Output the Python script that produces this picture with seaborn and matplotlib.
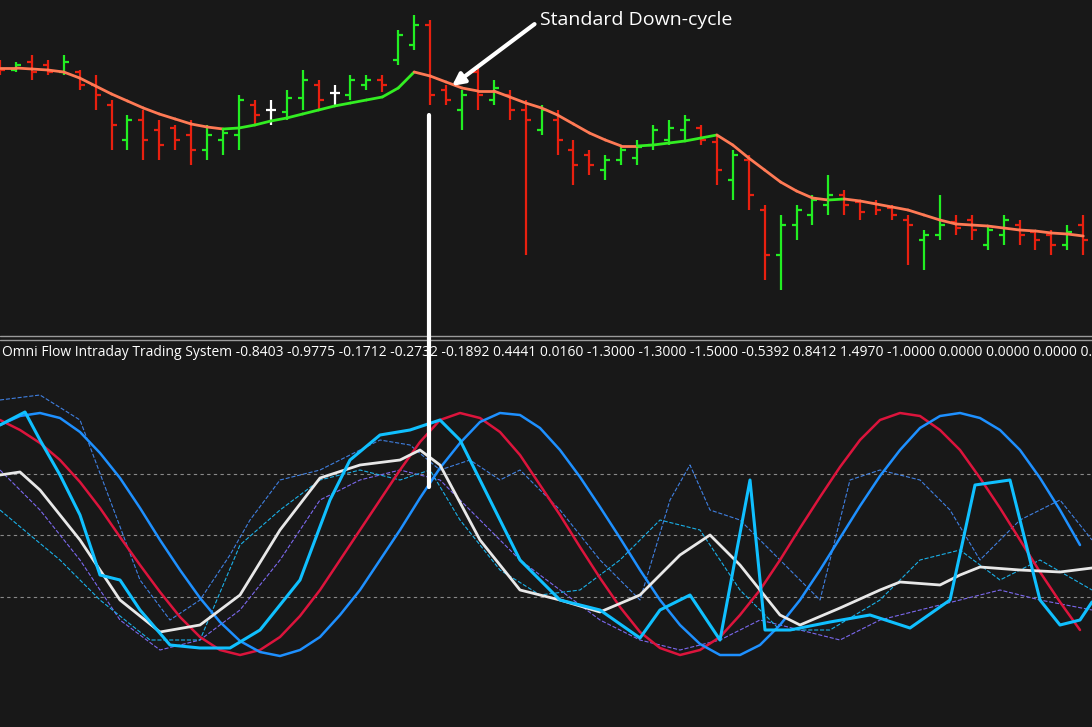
import matplotlib
matplotlib.use("Agg")
import matplotlib.pyplot as plt
import seaborn as sns
import pandas as pd
from matplotlib.lines import Line2D

sns.set_theme(style="dark")
plt.rcParams['font.family'] = ['Open Sans', 'DejaVu Sans']

BG = "#181818"
# ---- top panel data (pixel-like price units, larger = lower) ----
bar_high = [60,62,55,60,55,70,75,100,115,110,120,125,120,125,130,95,100,100,90,70,80,85,75,75,75,30,15,20,85,90,65,80,90,100,105,110,140,150,155,145,140,125,120,115,125,135,150,155,205,215,205,195,175,190,200,200,205,215,230,195,215,215,225,215,220,230,230,225,215]
bar_low = [75,72,80,75,75,90,110,150,150,160,160,150,165,160,155,150,125,125,120,110,110,105,100,90,92,65,50,105,105,130,110,105,120,255,135,155,185,175,180,165,165,150,145,140,145,185,200,210,280,290,240,225,215,215,220,215,220,265,270,240,235,240,250,245,245,250,255,250,255]
bar_open = [65,70,62,65,72,72,85,105,140,120,130,128,135,150,140,135,105,110,112,98,85,93,95,85,80,60,45,25,90,110,72,100,95,110,130,120,150,155,170,160,158,145,140,130,128,142,180,160,210,255,225,215,205,195,202,203,208,220,240,235,222,220,245,235,225,232,235,245,225]
bar_close = [70,65,72,72,62,85,95,125,120,140,145,140,150,135,133,100,115,110,98,80,100,93,80,80,85,35,25,95,100,95,95,88,110,120,110,140,165,165,160,150,147,130,128,120,140,170,155,195,255,225,210,200,195,205,212,210,215,225,235,225,228,230,230,220,235,240,245,232,240]
ma = [68,68,69,70,72,78,86,94,101,108,114,119,124,127,129,128,125,121,118,114,110,106,103,100,97,88,72,76,82,88,91,91,97,103,108,115,124,133,140,146,146,145,143,141,138,135,145,158,170,182,191,198,200,199,201,204,207,210,215,220,224,225,226,228,230,231,233,234,236]

# ---- bottom panel data ----
sine_x = [0,20,40,60,80,100,120,140,160,180,200,220,240,260,280,300,320,340,360,380,400,420,440,460,480,500,520,540,560,580,600,620,640,660,680,700,720,740,760,780,800,820,840,860,880,900,920,940,960,980,1000,1020,1040,1060,1080]
red_y = [420,430,443,460,482,508,537,565,592,617,637,650,655,650,637,616,590,560,530,500,470,442,420,413,418,432,455,485,515,547,578,607,632,648,655,650,637,615,590,560,528,497,467,440,420,413,416,430,450,478,508,540,572,602,630]
blue_y = [425,416,413,418,432,453,478,508,540,570,598,622,641,652,656,650,637,615,590,560,530,498,468,443,422,413,415,428,450,477,507,538,570,600,625,644,655,655,645,625,600,570,538,506,476,450,428,416,413,418,430,450,478,510,545]
white_x = [0,20,40,80,120,160,200,240,280,320,360,400,420,440,480,520,560,600,640,680,710,740,780,800,840,880,900,940,960,980,1020,1060,1092]
white_y = [475,472,490,540,600,632,625,595,530,478,465,460,450,465,540,590,600,612,595,555,535,565,615,625,608,590,582,585,575,567,570,572,568]
cyan_x = [0,25,40,60,80,100,120,140,170,200,230,260,300,330,350,380,410,440,460,490,520,560,600,640,660,690,720,750,765,790,830,870,910,950,975,1010,1040,1060,1080,1092]
cyan_y = [425,412,440,475,515,575,580,610,645,648,648,630,580,500,460,435,430,420,440,500,560,600,610,638,610,595,640,480,630,630,622,615,628,600,485,480,600,625,620,602]
d1_x = [0,40,80,110,140,170,200,230,250,280,320,350,380,410,440,470,500,520,560,600,640,670,690,710,740,780,820,850,880,920,950,980,1020,1060,1092]
d1_y = [400,395,420,500,580,620,600,555,520,480,470,455,440,445,470,460,480,470,510,560,600,500,465,510,520,560,600,480,470,480,510,560,520,500,540]
d2_x = [0,40,80,120,160,200,240,280,320,360,400,440,480,520,560,600,640,680,720,760,800,840,880,920,960,1000,1040,1092]
d2_y = [470,510,560,620,650,640,610,560,500,480,470,480,520,560,590,620,640,650,640,620,630,640,620,610,600,590,600,610]
d3_x = [0,60,100,150,200,240,280,320,360,400,430,460,500,540,580,620,660,700,740,780,830,880,920,960,1000,1040,1092]
d3_y = [510,560,600,640,640,545,510,480,470,480,470,520,570,595,590,560,520,530,590,630,630,600,560,550,580,560,590]
levels = [474, 535, 597]
label = ("Omni Flow Intraday Trading System -0.8403 -0.9775 -0.1712 -0.2732 -0.1892 0.4441 0.0160 "
         "-1.3000 -1.3000 -1.5000 -0.5392 0.8412 1.4970 -1.0000 0.0000 0.0000 0.0000 0.0000")

W, H = 1092, 727
fig = plt.figure(figsize=(W/100, H/100), dpi=100, facecolor=BG)
ax1 = fig.add_axes([0, 1-337/H, 1, 337/H])
ax2 = fig.add_axes([0, 0, 1, (H-362)/H])
for ax in (ax1, ax2):
    ax.set_facecolor(BG)
    ax.set_xlim(0, W)
    ax.set_xticks([]); ax.set_yticks([])
    for s in ax.spines.values():
        s.set_visible(False)
ax1.set_ylim(337, 0)
ax2.set_ylim(H, 362)

n = len(bar_high)
xs = [i*15.93 for i in range(n)]
RED, GREEN = "#e8200f", "#22ee22"
for i in range(n):
    if bar_open[i] == bar_close[i]:
        c = "white"
    elif bar_close[i] < bar_open[i]:
        c = GREEN
    else:
        c = RED
    ax1.vlines(xs[i], bar_high[i], bar_low[i], color=c, lw=1.6)
    ax1.hlines(bar_open[i], xs[i]-5, xs[i], color=c, lw=1.6)
    ax1.hlines(bar_close[i], xs[i], xs[i]+5, color=c, lw=1.6)
for i in range(n-1):
    c = "#33ee22" if ma[i+1] < ma[i] else "#ff7a55"
    ax1.plot(xs[i:i+2], ma[i:i+2], color=c, lw=2)

ax1.annotate("Standard Down-cycle", xy=(452, 86), xytext=(540, 20), color="white",
             fontsize=14, va="center",
             arrowprops=dict(arrowstyle="-|>", color="white", lw=3, mutation_scale=18,
                             shrinkA=2, shrinkB=0, relpos=(0, 0.5)))

for lv in levels:
    ax2.axhline(lv, color="#888888", lw=0.8, ls=(0, (3, 3)))

sns.lineplot(x=d1_x, y=d1_y, ax=ax2, color="#3f7fe0", lw=0.8, ls="--")
sns.lineplot(x=d2_x, y=d2_y, ax=ax2, color="#7b68ee", lw=0.8, ls="--")
sns.lineplot(x=d3_x, y=d3_y, ax=ax2, color="#1ab0e8", lw=0.8, ls="--")
sns.lineplot(x=sine_x, y=red_y, ax=ax2, color="#dc143c", lw=1.8)
sns.lineplot(x=sine_x, y=blue_y, ax=ax2, color="#1e90ff", lw=1.8)
sns.lineplot(x=white_x, y=white_y, ax=ax2, color="#e8e8e8", lw=2)
sns.lineplot(x=cyan_x, y=cyan_y, ax=ax2, color="#10c0ff", lw=2.2)

fig.add_artist(Line2D([0, 1], [1-336/H]*2, color="#9a9a9a", lw=1))
fig.add_artist(Line2D([0, 1], [1-340/H]*2, color="#9a9a9a", lw=1))
fig.text(2/W, 1-353/H, label, color="white", fontsize=10, va="center", ha="left")
fig.add_artist(Line2D([429/W, 429/W], [1-115/H, 1-487/H], color="white", lw=3))

fig.savefig("out.png", dpi=100, facecolor=BG)
